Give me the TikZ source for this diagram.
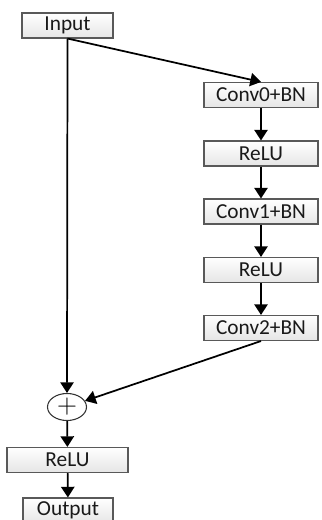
\documentclass[tikz,border=0pt]{standalone}
\usepackage{fontspec}
\setmainfont{Carlito}
\usetikzlibrary{arrows.meta, shapes.geometric}

\begin{document}
\begin{tikzpicture}[x=0.75pt, y=-0.75pt,
  box/.style={draw=black!65, line width=0.8pt, top color=white, bottom color=black!10,
    minimum height=18.75pt, inner sep=0pt, text=black!90,
    font=\fontsize{16}{19}\selectfont},
  arr/.style={line width=1.3pt, -{Triangle[width=10pt,length=8pt]}}]
\useasboundingbox (0,0) rectangle (321,520);
\node[box, minimum width=68.25pt] (inp) at (67.5,25.5) {Input};
\node[box, minimum width=85.5pt] (conv0) at (261,95) {Conv0+BN};
\node[box, minimum width=85.5pt] (relu0) at (261,153.5) {ReLU};
\node[box, minimum width=85.5pt] (conv1) at (261,211.5) {Conv1+BN};
\node[box, minimum width=85.5pt] (relu1) at (261,270) {ReLU};
\node[box, minimum width=85.5pt] (conv2) at (261,328) {Conv2+BN};
\node[draw=black!80, line width=0.8pt, ellipse, minimum width=29.25pt, minimum height=20.25pt,
  inner sep=0pt, font=\fontsize{21}{24}\selectfont] (add) at (67,407) {$+$};
\node[box, minimum width=90.75pt] (relu2) at (67.5,460) {ReLU};
\node[box, minimum width=67.5pt] (out) at (68,510.5) {Output};
\draw[arr] (inp.south) -- (add.north);
\draw[arr] (inp.south) -- (conv0.north);
\draw[arr] (conv0) -- (relu0);
\draw[arr] (relu0) -- (conv1);
\draw[arr] (conv1) -- (relu1);
\draw[arr] (relu1) -- (conv2);
\draw[arr] (conv2.south) -- (add);
\draw[arr] (add) -- (relu2);
\draw[arr] (relu2) -- (out);
\end{tikzpicture}
\end{document}
